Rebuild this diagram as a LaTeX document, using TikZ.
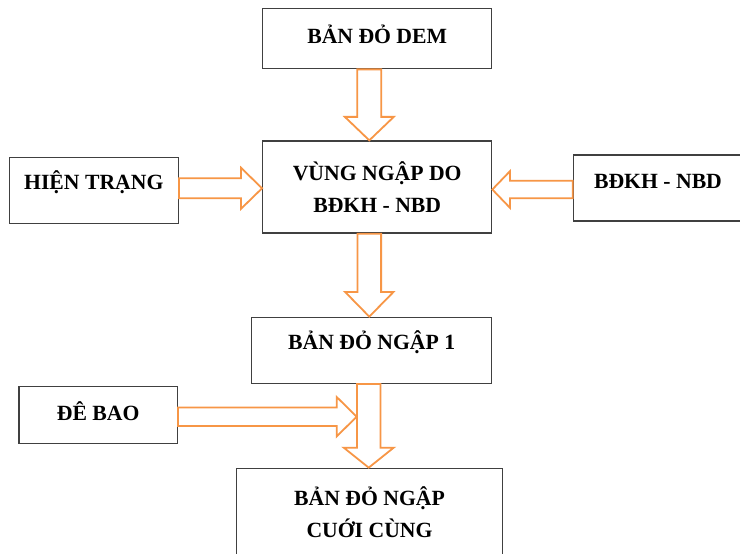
\documentclass[tikz,border=0pt]{standalone}
\usepackage{fontspec}
\setmainfont{Liberation Serif}
\usepackage{tikz}
\usetikzlibrary{calc}
\definecolor{arroworange}{RGB}{247,150,70}
\colorlet{boxline}{black!75}
\tikzset{
  flow/box/.style={draw=boxline, line width=1.3pt, inner sep=0pt, align=center,
    font=\fontsize{21.7}{32}\selectfont\bfseries},
  flow/one/.style={text height=15pt, text depth=#1},
  flow/arrow/.style={draw=arroworange, line width=1.8pt, line join=miter}
}
% block arrow: from, to, half shaft, half head, head length
\newcommand{\blockarrow}[5]{%
  \coordinate (ba-h) at ($(#2)!#5!(#1)$);
  \draw[flow/arrow] ($(#1)!#3!90:(#2)$) -- ($(ba-h)!#3!90:(#2)$)
    -- ($(ba-h)!#4!90:(#2)$) -- (#2) -- ($(ba-h)!#4!-90:(#2)$)
    -- ($(ba-h)!#3!-90:(#2)$) -- ($(#1)!#3!-90:(#2)$) -- cycle;
}
\begin{document}
\begin{tikzpicture}[x=1pt, y=-1pt]
  \clip (0,0) rectangle (740,554);
  \fill[white] (0,0) rectangle (740,554);

  \node[flow/box, flow/one=6pt, minimum width=229pt, minimum height=60.4pt] (dem) at (377.2,38.5) {BẢN ĐỎ DEM};
  \node[flow/box, minimum width=229pt, minimum height=92pt] (vung) at (377.2,187) {VÙNG NGẬP DO\\BĐKH - NBD};
  \node[flow/box, flow/one=16.2pt, minimum width=169pt, minimum height=66pt] (ht) at (93.8,190.3) {HIỆN TRẠNG};
  \node[flow/box, flow/one=15pt, minimum width=169.4pt, minimum height=66pt] (bdkh) at (658,188) {BĐKH - NBD};
  \node[flow/box, flow/one=16.2pt, minimum width=240pt, minimum height=66pt] (ngap) at (371.7,350.3) {BẢN ĐỎ NGẬP 1};
  \node[flow/box, flow/one=4pt, minimum width=158.3pt, minimum height=56.6pt] (debao) at (98.2,415) {ĐÊ BAO};
  \node[flow/box, minimum width=265.6pt, minimum height=88.4pt] (cuoi) at (369.5,512.5) {BẢN ĐỎ NGẬP\\CUỚI CÙNG};

  \coordinate (col) at (369.3,0);
  \coordinate (a1s) at (dem.south -| col);
  \coordinate (a1t) at (vung.north -| col);
  \coordinate (a2s) at ([yshift=2pt]ht.east);
  \coordinate (a2t) at (vung.west |- a2s);
  \coordinate (a3s) at ([yshift=-1.5pt]bdkh.west);
  \coordinate (a3t) at (vung.east |- a3s);
  \coordinate (a4s) at (vung.south -| col);
  \coordinate (a4t) at (ngap.north -| col);
  \coordinate (a5s) at ([yshift=-1.7pt]debao.east);
  \coordinate (a5t) at ($(col |- a5s)+(-12.6,0)$);
  \coordinate (a6s) at ([xshift=-0.6pt]ngap.south -| col);
  \coordinate (a6t) at ([xshift=-0.6pt]cuoi.north -| col);

  \blockarrow{a1s}{a1t}{12pt}{24.5pt}{23.5pt}
  \blockarrow{a2s}{a2t}{10pt}{20.5pt}{21pt}
  \blockarrow{a3s}{a3t}{8.8pt}{18.3pt}{17.6pt}
  \blockarrow{a4s}{a4t}{11.8pt}{24.2pt}{24.7pt}
  \blockarrow{a5s}{a5t}{9.3pt}{19.7pt}{20pt}
  \blockarrow{a6s}{a6t}{11.7pt}{25pt}{20pt}
\end{tikzpicture}
\end{document}
